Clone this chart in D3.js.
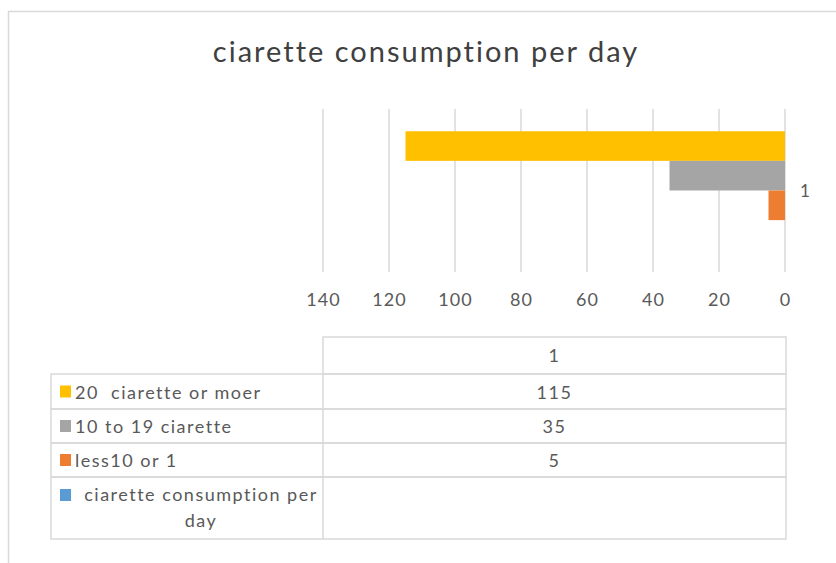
<!DOCTYPE html>
<html>
<head>
<meta charset="utf-8">
<script src="https://cdn.jsdelivr.net/npm/d3@7/dist/d3.min.js"></script>
<style>
  html, body { margin: 0; padding: 0; background: #fff; }
  svg { display: block; font-family: Lato, "Open Sans", sans-serif; font-variant-ligatures: none; font-feature-settings: "liga" 0; }
</style>
</head>
<body>
<svg id="chart" width="836" height="563"></svg>
<script>
// Chart data
const title = "ciarette consumption per day";
const categories = ["1"];
const seriesNames = ["20  ciarette or moer", "10 to 19 ciarette", "less10 or 1", "ciarette consumption per day"];
const seriesValues = [[115], [35], [5], [null]];
const seriesColors = ["#FFC000", "#A5A5A5", "#ED7D31", "#5B9BD5"];
const tickValues = [0, 20, 40, 60, 80, 100, 120, 140];

const svg = d3.select("#chart");
const textColor = "#595959";
const lineColor = "#D9D9D9";

// Chart-area frame (runs past the right and bottom edges)
svg.append("rect")
  .attr("x", 8.5).attr("y", 11.5)
  .attr("width", 900).attr("height", 600)
  .attr("fill", "none").attr("stroke", lineColor).attr("stroke-width", 1.5);

// Title
svg.append("text")
  .attr("x", 426).attr("y", 62)
  .attr("text-anchor", "middle")
  .attr("font-size", 29)
  .attr("letter-spacing", 2)
  .attr("fill", "#404040")
  .text(title);

// Scales: value axis runs right-to-left
const plot = { left: 323, right: 785, top: 109, bottom: 272 };
const x = d3.scaleLinear().domain([0, 140]).range([plot.right, plot.left]);
const y = d3.scaleBand().domain(categories).range([plot.top, plot.bottom]).padding(0);

// Bars inside each category band, with a 150% gap width
const gapWidth = 1.5;
const barH = y.bandwidth() / (seriesNames.length + gapWidth);
const inner = d3.scaleBand()
  .domain(d3.range(seriesNames.length))
  .range([barH * gapWidth / 2, barH * gapWidth / 2 + barH * seriesNames.length]);

// Vertical gridlines
svg.append("g").selectAll("line")
  .data(tickValues)
  .join("line")
  .attr("x1", d => x(d)).attr("x2", d => x(d))
  .attr("y1", plot.top).attr("y2", plot.bottom)
  .attr("stroke", lineColor).attr("stroke-width", 1.5);

// Axis tick labels
const axis = d3.axisBottom(x).tickValues(tickValues).tickSize(0).tickPadding(0).tickFormat(d3.format("d"));
const axisG = svg.append("g")
  .attr("transform", `translate(0, ${plot.bottom + 21})`)
  .call(axis);
axisG.select(".domain").remove();
axisG.selectAll("text")
  .attr("font-family", "Lato, sans-serif")
  .attr("font-size", 18)
  .attr("letter-spacing", 1)
  .attr("fill", textColor);

// Bars
categories.forEach((cat, ci) => {
  seriesValues.forEach((vals, si) => {
    const v = vals[ci];
    if (v == null) return;
    svg.append("rect")
      .attr("x", x(v))
      .attr("y", y(cat) + inner(si))
      .attr("width", x(0) - x(v))
      .attr("height", inner.bandwidth())
      .attr("fill", seriesColors[si]);
  });
  // Category label on the right of the zero line
  svg.append("text")
    .attr("x", plot.right + 15)
    .attr("y", y(cat) + y.bandwidth() / 2 + 6)
    .attr("font-size", 17)
    .attr("fill", textColor)
    .text(cat);
});

// Data table beneath the chart
const tbl = { left: 51, mid: 323, right: 786, rows: [337, 374, 409, 443, 477, 539] };
const tg = svg.append("g").attr("letter-spacing", 1.5);
// header cell
tg.append("rect")
  .attr("x", tbl.mid).attr("y", tbl.rows[0])
  .attr("width", tbl.right - tbl.mid).attr("height", tbl.rows[1] - tbl.rows[0])
  .attr("fill", "none").attr("stroke", lineColor).attr("stroke-width", 1.5);
categories.forEach(cat => {
  tg.append("text")
    .attr("x", (tbl.mid + tbl.right) / 2)
    .attr("y", (tbl.rows[0] + tbl.rows[1]) / 2 + 6)
    .attr("text-anchor", "middle")
    .attr("font-size", 18).attr("fill", textColor)
    .text(cat);
});
seriesNames.forEach((name, i) => {
  const top = tbl.rows[i + 1], bot = tbl.rows[i + 2];
  tg.append("rect")
    .attr("x", tbl.left).attr("y", top)
    .attr("width", tbl.right - tbl.left).attr("height", bot - top)
    .attr("fill", "none").attr("stroke", lineColor).attr("stroke-width", 1.5);
  tg.append("line")
    .attr("x1", tbl.mid).attr("x2", tbl.mid).attr("y1", top).attr("y2", bot)
    .attr("stroke", lineColor).attr("stroke-width", 1.5);
  const isLast = i === seriesNames.length - 1;
  const markY = isLast ? top + 12 : (top + bot) / 2 - 6;
  tg.append("rect")
    .attr("x", 60).attr("y", markY)
    .attr("width", 11).attr("height", 12)
    .attr("fill", seriesColors[i]);
  if (!isLast) {
    tg.append("text")
      .attr("x", 75).attr("y", (top + bot) / 2 + 7)
      .attr("font-size", 18).attr("fill", textColor)
      .attr("xml:space", "preserve")
      .text(name);
  } else {
    const words = name.split(" ");
    const line1 = words.slice(0, 3).join(" ");
    const line2 = words.slice(3).join(" ");
    tg.append("text")
      .attr("x", 201).attr("y", top + 24)
      .attr("text-anchor", "middle")
      .attr("font-size", 18).attr("fill", textColor)
      .text(line1);
    tg.append("text")
      .attr("x", 201).attr("y", top + 50)
      .attr("text-anchor", "middle")
      .attr("font-size", 18).attr("fill", textColor)
      .text(line2);
  }
  categories.forEach((cat, ci) => {
    const v = seriesValues[i][ci];
    if (v == null) return;
    tg.append("text")
      .attr("x", (tbl.mid + tbl.right) / 2)
      .attr("y", (top + bot) / 2 + 7)
      .attr("text-anchor", "middle")
      .attr("font-size", 18).attr("fill", textColor)
      .text(v);
  });
});
</script>
</body>
</html>
